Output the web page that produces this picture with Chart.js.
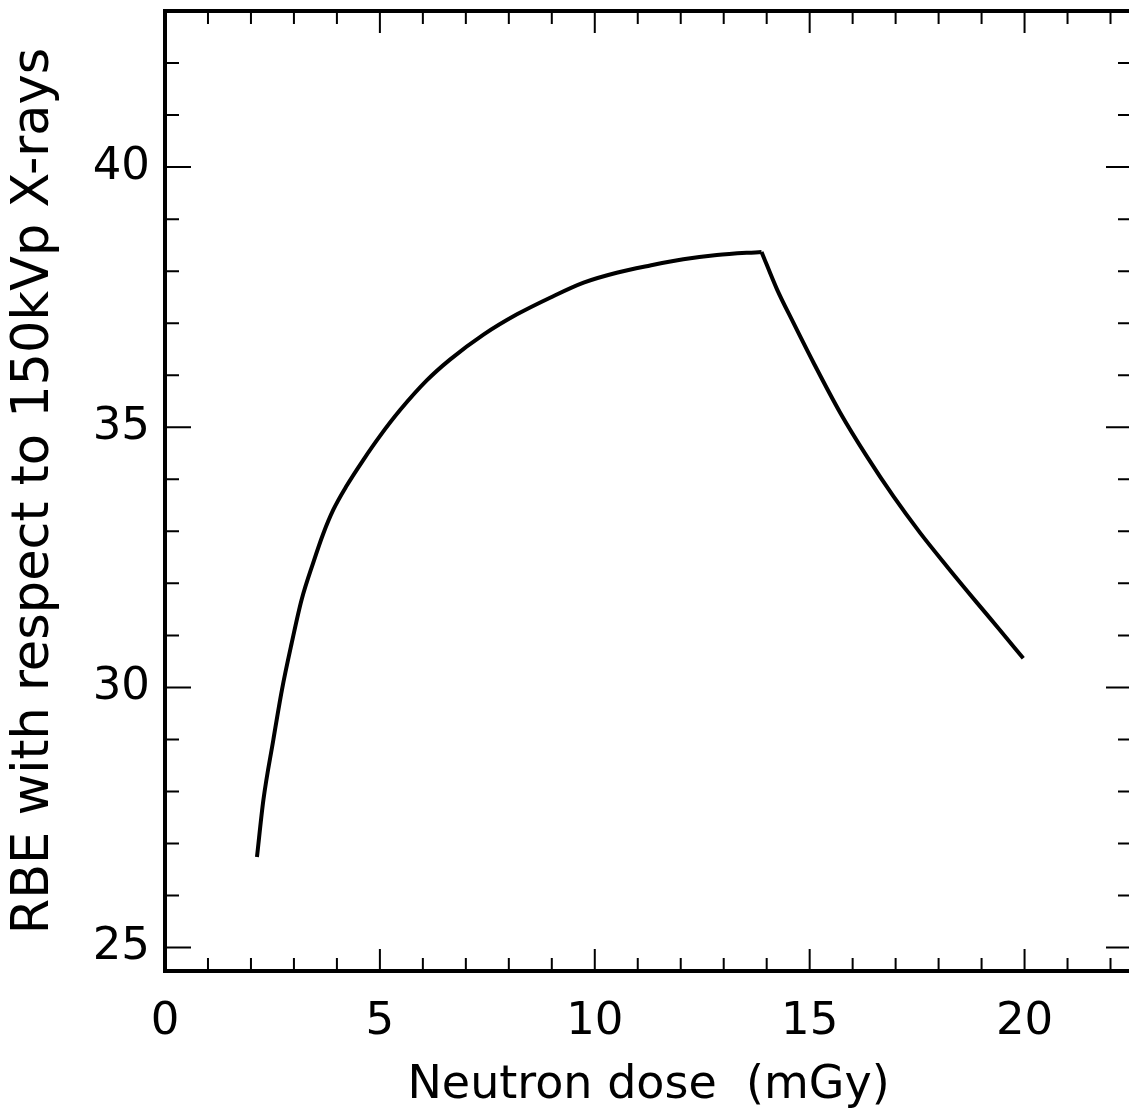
<!DOCTYPE html>
<html>
<head>
<meta charset="utf-8">
<script src="https://cdn.jsdelivr.net/npm/chart.js@4.4.1/dist/chart.umd.min.js"></script>
<style>
  html, body { margin: 0; padding: 0; background: #fff; overflow: hidden; }
  #wrap { width: 1140px; height: 1118px; }
</style>
</head>
<body>
<div id="wrap"><canvas id="chart"></canvas></div>
<script>
// values (rising branch, then falling branch from the peak)
const riseDose = [2.14, 2.29, 2.52, 2.72, 2.95, 3.18, 3.45, 3.68, 3.92, 4.23, 4.62, 5.00, 5.47, 6.09, 6.63, 7.41, 8.19, 8.96, 9.74, 10.51, 11.29, 12.06, 12.84, 13.88];
const riseRbe = [26.74, 27.84, 28.99, 29.95, 30.86, 31.69, 32.40, 32.95, 33.42, 33.88, 34.38, 34.83, 35.33, 35.90, 36.30, 36.78, 37.17, 37.49, 37.78, 37.97, 38.11, 38.23, 38.31, 38.37];
const fallDose = [13.88, 14.24, 14.62, 15.09, 15.71, 16.33, 16.95, 17.57, 18.19, 18.89, 19.43, 19.97];
const fallRbe = [38.37, 37.65, 37.01, 36.24, 35.28, 34.44, 33.67, 32.97, 32.33, 31.63, 31.10, 30.56];
const xTickValues = [0, 5, 10, 15, 20];
const yTickValues = [25, 30, 35, 40];

const xMin = 0, xMax = 22.5;
const yMin = 24.55, yMax = 43.0;

const toPoints = (xs, ys) => xs.map((d, i) => ({ x: d, y: ys[i] }));

// frame + inward ticks on all four sides
const frameTicks = {
  id: 'frameTicks',
  afterDraw(chart) {
    const { ctx, chartArea: a, scales } = chart;
    const xs = scales.x, ys = scales.y;
    ctx.save();
    ctx.strokeStyle = '#000';
    ctx.lineCap = 'butt';

    ctx.lineWidth = 2;
    for (let v = Math.ceil(xMin); v <= xMax; v++) {
      const px = xs.getPixelForValue(v);
      const len = v % 5 === 0 ? 22 : 13;
      ctx.beginPath();
      ctx.moveTo(px, a.bottom); ctx.lineTo(px, a.bottom - len);
      ctx.moveTo(px, a.top); ctx.lineTo(px, a.top + len);
      ctx.stroke();
    }
    for (let v = Math.ceil(yMin); v <= yMax; v++) {
      const py = ys.getPixelForValue(v);
      const len = v % 5 === 0 ? 26 : 14;
      ctx.beginPath();
      ctx.moveTo(a.left, py); ctx.lineTo(a.left + len, py);
      ctx.moveTo(a.right, py); ctx.lineTo(a.right - len, py);
      ctx.stroke();
    }

    ctx.lineWidth = 4;
    ctx.strokeRect(a.left, a.top, a.right - a.left, a.bottom - a.top);
    ctx.restore();
  }
};

const lineStyle = {
  borderColor: '#000',
  borderWidth: 4,
  pointRadius: 0,
  cubicInterpolationMode: 'monotone',
  fill: false,
};

new Chart(document.getElementById('chart'), {
  type: 'line',
  data: {
    datasets: [
      { data: toPoints(riseDose, riseRbe), ...lineStyle },
      { data: toPoints(fallDose, fallRbe), ...lineStyle },
    ],
  },
  options: {
    responsive: true,
    maintainAspectRatio: false,
    animation: false,
    layout: { padding: { top: 11, right: 8, left: 0, bottom: 0 } },
    plugins: {
      legend: { display: false },
      tooltip: { enabled: false },
    },
    scales: {
      x: {
        type: 'linear',
        min: xMin,
        max: xMax,
        afterFit: (s) => { s.height = 147; s.paddingLeft = 0; s.paddingRight = 0; },
        afterBuildTicks: (s) => { s.ticks = xTickValues.map((v) => ({ value: v })); },
        grid: { display: false, drawTicks: false },
        border: { display: false },
        ticks: {
          color: '#000',
          padding: 24,
          maxRotation: 0,
          font: { family: 'DejaVu Sans', size: 45 },
        },
        title: {
          display: true,
          text: 'Neutron dose  (mGy)',
          color: '#000',
          padding: { top: 0, bottom: 4 },
          font: { family: 'DejaVu Sans', size: 46 },
        },
      },
      y: {
        type: 'linear',
        min: yMin,
        max: yMax,
        afterFit: (s) => { s.width = 165; s.paddingTop = 0; s.paddingBottom = 0; },
        afterBuildTicks: (s) => { s.ticks = yTickValues.map((v) => ({ value: v })); },
        grid: { display: false, drawTicks: false },
        border: { display: false },
        ticks: {
          color: '#000',
          padding: 15,
          font: { family: 'DejaVu Sans', size: 45 },
        },
        title: {
          display: true,
          text: 'RBE with respect to 150kVp X-rays',
          color: '#000',
          padding: { top: 4, bottom: 0 },
          font: { family: 'DejaVu Sans', size: 51 },
        },
      },
    },
  },
  plugins: [frameTicks],
});
</script>
</body>
</html>
